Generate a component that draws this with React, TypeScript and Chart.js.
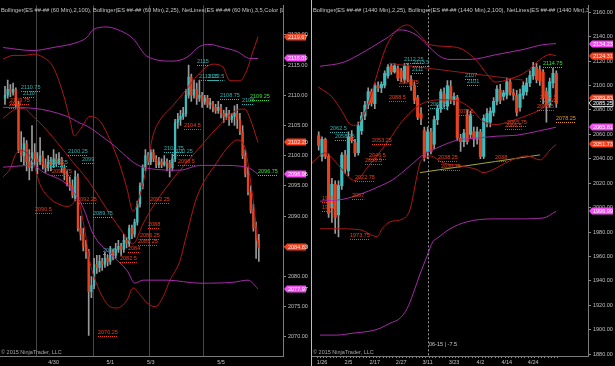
import React, { useEffect, useRef } from "react";
import { Chart, registerables } from "chart.js";

Chart.register(...registerables);

const FONT = '"Liberation Sans", "DejaVu Sans", Arial, sans-serif';

// ================= LEFT PANEL (60 Min) =================
// [open, high, low, close]
const leftCandles: number[][] = [
  [2109.5, 2111.5, 2108.5, 2110], [2110, 2112.5, 2109.5, 2111], [2111, 2111.75, 2109.75, 2110.5], [2110.5, 2112, 2110, 2111],
  [2111, 2111.25, 2108, 2108.5], [2108.5, 2109, 2100.5, 2101], [2101, 2104, 2099, 2100], [2100, 2103, 2098.5, 2102],
  [2102, 2102.5, 2097.5, 2099], [2099, 2101, 2096, 2098], [2098, 2105, 2097.5, 2100.5], [2100.5, 2102, 2098.5, 2099.5],
  [2099.5, 2100.5, 2097, 2099], [2099, 2103, 2098.5, 2100], [2100, 2100.75, 2097.75, 2098.5], [2098.5, 2099.5, 2097.25, 2098],
  [2098, 2100, 2097.5, 2099], [2099, 2099.75, 2097.5, 2098.5], [2098.5, 2101, 2098, 2099.5], [2099.5, 2100.25, 2098.25, 2098.75],
  [2098.75, 2100.5, 2098.5, 2099.5], [2099.5, 2099.75, 2097.25, 2098], [2098, 2098.5, 2096, 2097], [2097, 2097.5, 2095, 2095.5],
  [2095.5, 2096.5, 2094.25, 2095], [2095, 2096, 2093, 2093.5], [2093, 2097.5, 2092.5, 2096.5], [2096.5, 2097, 2087.5, 2088],
  [2088, 2090, 2086, 2087], [2087, 2088, 2084.25, 2085], [2085, 2086, 2083, 2084], [2084, 2084.5, 2070.25, 2077.5],
  [2077.5, 2080, 2076.5, 2078.5], [2078.5, 2083, 2078, 2082], [2082, 2083.5, 2080.5, 2081.5], [2081.5, 2083.5, 2080.75, 2082.5],
  [2082.5, 2083, 2081, 2082], [2082, 2084, 2081.5, 2083], [2083, 2083.5, 2081.75, 2082.5], [2082.5, 2085, 2082, 2084],
  [2084, 2084.5, 2082.75, 2083.5], [2083.5, 2085.5, 2083, 2084.5], [2084.5, 2086, 2084, 2085], [2085, 2085.5, 2083.5, 2084.5],
  [2084.5, 2087, 2084, 2086], [2086, 2086.5, 2084.75, 2085.5], [2085.5, 2088.5, 2085, 2088], [2088, 2088.5, 2086.25, 2087],
  [2087, 2089.5, 2086.5, 2089], [2089, 2092.5, 2088.5, 2092], [2092, 2095.5, 2091.5, 2095], [2095, 2098.5, 2094.5, 2098],
  [2098, 2101, 2097.5, 2100], [2100, 2100.5, 2098.5, 2099], [2099, 2101, 2098.5, 2100.5], [2100.5, 2101, 2099, 2099.5],
  [2099.5, 2100, 2098, 2098.5], [2098.5, 2099.75, 2098, 2099], [2099, 2099.5, 2098, 2098.5], [2098.5, 2100, 2098.25, 2099],
  [2099, 2099.5, 2097.5, 2098.75], [2098.75, 2099.25, 2096.5, 2098], [2098, 2100.25, 2097.5, 2099.5], [2099.5, 2106, 2099, 2105.5],
  [2105.5, 2107, 2104.5, 2106], [2106, 2107.5, 2105, 2106.5], [2106.5, 2108, 2106, 2107], [2107, 2111, 2106.5, 2110],
  [2110, 2115, 2109.5, 2113], [2113, 2113.5, 2109, 2110], [2110, 2112.5, 2109.5, 2111], [2111, 2112, 2108.5, 2109.5],
  [2109.5, 2112.5, 2109, 2110], [2110, 2110.5, 2108, 2109], [2109, 2110, 2108.5, 2109.5], [2109.5, 2110, 2108, 2108.5],
  [2108.5, 2109.5, 2107.75, 2108.75], [2108.75, 2109, 2107.25, 2108], [2108, 2108.5, 2107, 2107.5], [2107.5, 2109, 2107, 2108],
  [2108, 2108.5, 2106.25, 2107], [2107, 2107.5, 2105.5, 2106.5], [2106.5, 2108, 2106, 2107], [2107, 2107.5, 2105, 2106],
  [2106, 2107, 2105.5, 2106.5], [2106.5, 2108.25, 2105, 2107], [2107, 2108.5, 2104.5, 2106], [2106, 2107, 2103.5, 2104],
  [2104, 2105, 2099.5, 2100], [2100, 2101, 2096.5, 2097], [2097, 2098, 2093.5, 2094], [2094, 2095, 2090.5, 2091],
  [2091, 2092, 2087.5, 2088], [2088, 2089, 2083, 2086], [2086, 2087, 2082.5, 2084.75],
];
// Bollinger (2,100) – purple
const leftUpper100 = [[-0.7, 2117.9], [10.4, 2117.4], [17.8, 2117.9], [26.7, 2118.75], [30.4, 2119.6], [32.6, 2120.85], [37.8, 2121.3], [42.6, 2120.7], [47.4, 2119.4], [52.6, 2116.45], [62.2, 2115.65], [67.4, 2116.3], [72.2, 2118.1], [75.9, 2118.4], [80.7, 2117.9], [85.9, 2117.25], [90.7, 2116.1], [93.7, 2116.09]];
const leftMid100 = [[-0.7, 2108], [10.4, 2107.85], [23, 2106.5], [27.8, 2105.4], [30.4, 2104.9], [38.9, 2102.2], [51.1, 2098.1], [64.8, 2097.6], [72.2, 2098.4], [79.6, 2098.4], [89.6, 2098.1], [93.7, 2096.96]];
const leftLower100 = [[-0.7, 2098.1], [10.4, 2098.4], [14.1, 2097.3], [23, 2095.2], [28.9, 2091.45], [32.6, 2087.05], [38.9, 2083.8], [45.2, 2081], [48.1, 2078.9], [51.1, 2079.4], [60, 2079.4], [72.2, 2078.9], [84.4, 2079.05], [90, 2079.4], [93.7, 2077.97]];
// Bollinger (2,25) – dark red
const leftUpper25 = [[-0.7, 2116], [3, 2116.6], [7.4, 2116.6], [10.4, 2116.8], [14.1, 2116.3], [17.8, 2114.7], [21.5, 2110.3], [24.1, 2105.9], [25.6, 2103.3], [27.8, 2104.3], [31.5, 2106.5], [35.2, 2105.7], [38.9, 2102.6], [42.6, 2098.4], [45.2, 2094.5], [47.4, 2090.8], [50, 2093.5], [52.6, 2098.4], [54.8, 2103.3], [57.4, 2105.9], [62.2, 2108.3], [67.4, 2111.1], [71.1, 2113.2], [77, 2115.15], [80.7, 2114.7], [83.3, 2112.4], [87, 2112.4], [89.6, 2114.2], [91.5, 2116.8], [93.7, 2119.67]];
const leftMid25 = [[-0.7, 2106.2], [3, 2107.5], [6.7, 2107.85], [10.4, 2106.5], [14.1, 2104.9], [19.3, 2102.2], [25.2, 2098.9], [30.4, 2096.1], [35.2, 2092.9], [40, 2089.6], [45.2, 2086.4], [47.4, 2085.4], [51.1, 2088.7], [54.8, 2091.6], [58.5, 2094], [63.7, 2097], [71.1, 2100.85], [78.5, 2104.6], [84.1, 2107], [87, 2107.7], [88.9, 2107.7], [90.7, 2106.2], [93.7, 2102.2]];
const leftLower25 = [[-0.7, 2096.5], [1.85, 2097.8], [3.7, 2100], [5.6, 2100.85], [8.1, 2100.5], [10.4, 2098.9], [13, 2095.2], [16.7, 2092.9], [20.4, 2091.9], [23, 2091.6], [24.8, 2091.9], [26.7, 2092.9], [29.6, 2087.5], [31.5, 2082.3], [34.1, 2078.6], [36.3, 2076.5], [38.9, 2075], [41.5, 2074.8], [45.2, 2076.1], [47.4, 2078.1], [50, 2077], [52.6, 2075.65], [55.6, 2075], [58.5, 2076.6], [61.1, 2079.4], [64.8, 2082.6], [66.7, 2085.9], [71.1, 2093.2], [78.5, 2098.9], [83.3, 2101.8], [85.9, 2102.6], [88.9, 2101.3], [90.7, 2096.5], [92.6, 2090], [93.7, 2084.9]];
const leftYTicks = [2070, 2075, 2080, 2085, 2090, 2095, 2100, 2105, 2110, 2115, 2120];
const leftDateTicks: [number, string][] = [[18, "4/30"], [39, "5/1"], [54, "5/3"], [80, "5/5"]];
const leftSessionBreaks = [11.5, 32.5, 53.5, 73.4];
// [text, bar, price, colour]
const leftNotes: [string, number, number, string][] = [
  ["2110.75", 5.9, 2111.4, "c"], ["2110", 6.7, 2110.45, "c"], ["2109.75", 1.85, 2109.3, "r"], ["2108", 1.5, 2108.6, "r"],
  ["2100.25", 23.3, 2100.85, "c"], ["2099", 28.5, 2099.4, "c"], ["2098.25", 15.9, 2098.9, "c"], ["2096.75", 17.4, 2097.4, "r"],
  ["2092.25", 26.7, 2092.9, "r"], ["2090.5", 11.1, 2091.1, "r"], ["2089.75", 32.6, 2090.45, "c"], ["2087", 36.3, 2084.4, "c"],
  ["2084", 45.6, 2084.75, "r"], ["2082.5", 42.6, 2083.1, "r"], ["2086.25", 50, 2086.9, "r"], ["2085.25", 49.3, 2085.9, "r"],
  ["2088", 53, 2088.7, "r"], ["2092.25", 53.7, 2092.9, "r"], ["2070.25", 34.4, 2070.9, "r"], ["2104.5", 66.3, 2105.1, "r"],
  ["2115", 71.1, 2115.65, "c"], ["2113.25", 71.9, 2113.2, "c"], ["2112.5", 75.2, 2113.2, "c"], ["2108.75", 79.6, 2110.1, "c"],
  ["2108", 87.8, 2109.15, "c"], ["2109.25", 90.7, 2109.8, "g"], ["2101.75", 58.9, 2101.3, "c"], ["2100.25", 62.2, 2100.85, "c"],
  ["2098.5", 64.1, 2099.2, "r"], ["2096.75", 93.7, 2097.4, "g"],
];
// [text, price, colour]
const leftTags: [string, number, string][] = [
  ["2119.67", 2119.67, "r"], ["2116.09", 2116.09, "m"], ["2102.20", 2102.2, "r"],
  ["2096.96", 2096.96, "m"], ["2084.83", 2084.83, "r"], ["2077.97", 2077.97, "m"],
];

// ================= RIGHT PANEL (1440 Min) =================
const rightCandles: number[][] = [
  [2059, 2062, 2047, 2051], [2042, 2058, 2038, 2056], [2056, 2057, 2040, 2042], [2042, 2044, 1992, 1995],
  [2000, 2024, 1988, 2019], [2019, 2022, 1979, 1992], [1994, 2022, 1976, 2018], [2018, 2045, 2015, 2043],
  [2043, 2047, 2028, 2032], [2030, 2062, 2026, 2058], [2058, 2063, 2053, 2055], [2053, 2056, 2042, 2045],
  [2045, 2070, 2043, 2067], [2063, 2078, 2060, 2075], [2075, 2087, 2072, 2084], [2084, 2098, 2081, 2095],
  [2095, 2097, 2083, 2086], [2085, 2102, 2081, 2100], [2100, 2103, 2095, 2098], [2098, 2103, 2094, 2101],
  [2100, 2112, 2098, 2110], [2108, 2117, 2106, 2115], [2116, 2118, 2109, 2111], [2111, 2118, 2110, 2116],
  [2114, 2116, 2104, 2106], [2112, 2114, 2103, 2106], [2105, 2118, 2102, 2116], [2116, 2118, 2103, 2105],
  [2105, 2108, 2096, 2100], [2100, 2103, 2085, 2088], [2090, 2092, 2072, 2074], [2077, 2082, 2068, 2073],
  [2063, 2066, 2038, 2041], [2046, 2066, 2040, 2062], [2062, 2065, 2044, 2046], [2052, 2075, 2048, 2072],
  [2072, 2084, 2068, 2081], [2081, 2097, 2078, 2095], [2093, 2098, 2082, 2086], [2083, 2104, 2080, 2100],
  [2099, 2104, 2085, 2088], [2088, 2094, 2084, 2091], [2090, 2092, 2055, 2057], [2057, 2060, 2046, 2054],
  [2054, 2064, 2050, 2061], [2076, 2080, 2052, 2054], [2060, 2079, 2057, 2076], [2062, 2066, 2050, 2056],
  [2056, 2066, 2052, 2062], [2062, 2064, 2040, 2042], [2042, 2076, 2040, 2073], [2070, 2081, 2066, 2077],
  [2070, 2082, 2066, 2079], [2078, 2090, 2075, 2087], [2087, 2100, 2084, 2097], [2096, 2101, 2085, 2088],
  [2091, 2096, 2088, 2094], [2092, 2106, 2089, 2103], [2103, 2105, 2092, 2094], [2094, 2097, 2088, 2092],
  [2092, 2096, 2075, 2078], [2082, 2097, 2079, 2093], [2092, 2103, 2089, 2100], [2095, 2106, 2092, 2102],
  [2102, 2112, 2099, 2108], [2108, 2119, 2105, 2115], [2115, 2118, 2102, 2105], [2113, 2116, 2100, 2104],
  [2111, 2113, 2085, 2090], [2095, 2098, 2070, 2084], [2084, 2106, 2082, 2103], [2102, 2114, 2098, 2110],
  [2110, 2112, 2082, 2085.25],
];
const rightUpper100 = [[0.4, 2115.7], [7.4, 2118.9], [13.4, 2127], [20.7, 2139], [24.6, 2145.5], [27.7, 2143.9], [30.7, 2139], [33.7, 2131], [36.8, 2123.7], [39.8, 2121.3], [45.8, 2121.3], [54, 2125.35], [61.9, 2129.4], [68, 2133.4], [71.9, 2134.23]];
const rightMid100 = [[0.4, 2005.3], [7.4, 2006.9], [12.5, 2010.9], [17.7, 2016.6], [22.5, 2023], [27.7, 2034.3], [31.6, 2043.2], [35.8, 2048.8], [41.9, 2055.2], [48, 2056.9], [54, 2058.5], [60.1, 2059.3], [66.2, 2062.5], [71.9, 2065.81]];
const rightLower100 = [[0.4, 1895.7], [5.5, 1895.7], [10.4, 1897.3], [15.5, 1898.9], [18.6, 1901.3], [21.6, 1905.4], [24.6, 1909.4], [26.8, 1917.5], [28.6, 1929.5], [30.7, 1945.7], [32.8, 1960.2], [34.6, 1972.25], [35.8, 1974.7], [39.8, 1982.7], [44.9, 1988.4], [52.8, 1990.8], [60.1, 1990.8], [68, 1991.5], [71.9, 1996.99]];
const rightUpper25 = [[-0.2, 2098.8], [4, 2090.7], [7.1, 2078.6], [9.2, 2069], [11, 2067.3], [13.1, 2073], [15.5, 2089.1], [17.7, 2109.2], [20.1, 2129.4], [22.5, 2141.5], [26.8, 2149.5], [29.8, 2143.9], [33.7, 2133.4], [39.8, 2131.8], [43.7, 2129.4], [48, 2119.7], [51, 2109.2], [53.4, 2102.8], [57.9, 2105.2], [63.1, 2111.65], [67.1, 2121.3], [70.1, 2125.35], [71.9, 2124.31]];
const rightMid25 = [[-2, 2036.7], [1.9, 2044.8], [6.1, 2034.3], [9.2, 2024.6], [11, 2022.2], [15.2, 2034.3], [18.3, 2044.8], [21.3, 2055.2], [24.3, 2067.3], [28.3, 2079.4], [31.3, 2085.1], [32.8, 2086.7], [36.8, 2088.3], [41.9, 2087.5], [45.8, 2081.8], [49.8, 2070.6], [54, 2068.1], [57.9, 2070.6], [63.1, 2075.4], [67.1, 2080.2], [71.9, 2089.83]];
const rightLower25 = [[0.4, 1982.7], [5.5, 1982.7], [12.5, 1981.9], [17.7, 1976.3], [19.2, 1982.7], [21.6, 1988.4], [25.5, 1990.8], [27.7, 1998.85], [29.8, 2026.2], [30.7, 2036.7], [32.2, 2040.7], [33.7, 2042.35], [37.7, 2036.7], [42.8, 2034.3], [48, 2031.1], [49.8, 2028.65], [52.8, 2031.1], [57.9, 2038.3], [63.1, 2042.35], [67.1, 2039.1], [70.1, 2047.2], [71.9, 2051.73]];
const rightTrendSupport = [[30.7, 2028.65], [67.1, 2043.2]];
const rightTrendResist = [[21.3, 2118.1], [61.9, 2104.4]];
const rightYTicks = [1880, 1900, 1920, 1940, 1960, 1980, 2000, 2020, 2040, 2060, 2080, 2100, 2120, 2140, 2160];
const rightDateTicks: [number, string][] = [[1, "1/26"], [9, "2/5"], [17, "2/17"], [25, "2/27"], [33, "3/11"], [41, "3/23"], [49, "4/2"], [57, "4/14"], [65, "4/24"]];
const rightDashedLines = [33];
const rightNotes: [string, number, number, string][] = [
  ["2112.25", 25.8, 2121.3, "c"], ["2113.5", 28.6, 2118.9, "c"], ["2111", 28.3, 2113.3, "c"], ["2096.75", 24.3, 2102.8, "r"],
  ["2088.5", 21.3, 2090.7, "r"], ["2107", 44.3, 2108.4, "c"], ["2101", 44.9, 2103.6, "c"], ["2078.5", 41.9, 2079.4, "r"],
  ["2062.5", 3.4, 2064.9, "c"], ["2058.75", 4.9, 2058.5, "c"], ["2062.5", 33.7, 2085.1, "c"], ["2053.25", 16.2, 2055.2, "r"],
  ["2046.5", 15.2, 2043.2, "r"], ["2038.5", 14, 2039.1, "r"], ["2022.75", 11, 2025.4, "r"], ["2007", 10.1, 2010.1, "r"],
  ["1996", 1, 2007.7, "r"], ["1993", 1, 2000.5, "r"], ["1973.75", 9.5, 1977.9, "r"], ["2065.75", 57.1, 2069.8, "r"],
  ["2066.5", 56.5, 2067.3, "r"], ["2092.5", 67.1, 2090.7, "r"], ["2086.5", 66.2, 2083.4, "r"], ["2114.75", 68, 2118.1, "g"],
  ["2078.25", 71.9, 2073, "o"], ["2038.25", 36.1, 2041.5, "r"], ["2030.75", 37.1, 2034.3, "r"], ["2038", 53.4, 2041.5, "r"],
  ["06-15 | -7.5", 33.3, 1888.4, "w"],
];
const rightTags: [string, number, string][] = [
  ["2134.23", 2134.23, "m"], ["2124.31", 2124.31, "r"], ["2089.83", 2089.83, "r"], ["2085.25", 2085.25, "k"],
  ["2065.81", 2065.81, "m"], ["2051.73", 2051.73, "r"], ["1996.99", 1996.99, "m"],
];

// ================= styles =================
const UP = "#3cbcbc";
const DOWN = "#e8421e";
const WICK = "#9a9a9a";
const PURPLE = "#a62aa8";
const DARKRED = "#b01616";
const NOTE_COLORS: Record<string, string> = { c: "#33b0b0", r: "#e8401c", g: "#36e036", o: "#e89a1c", w: "#c8c8c8" };
const TAG_BG: Record<string, string> = { r: "#f3401e", m: "#f04cf0", k: "#111111" };
const TAG_FG: Record<string, string> = { r: "#ffe6e6", m: "#ffffff", k: "#ffffff" };

type Panel = {
  width: number;
  yAxisW: number;
  candles: number[][];
  bodyW: number;
  lines: { pts: number[][]; color: string; straight?: boolean }[];
  xMin: number; xMax: number; yMin: number; yMax: number;
  yTicks: number[];
  dateTicks: [number, string][];
  tickEveryBar: boolean;
  sessionBreaks: number[];
  dashedLines: number[];
  notes: [string, number, number, string][];
  tags: [string, number, string][];
  title: string;
};

const LEFT: Panel = {
  width: 308, yAxisW: 25, candles: leftCandles, bodyW: 1.6,
  lines: [
    { pts: leftUpper100, color: PURPLE }, { pts: leftMid100, color: PURPLE }, { pts: leftLower100, color: PURPLE },
    { pts: leftUpper25, color: DARKRED }, { pts: leftMid25, color: DARKRED }, { pts: leftLower25, color: DARKRED },
  ],
  xMin: -1.85, xMax: 102.96, yMin: 2066.85, yMax: 2124.89,
  yTicks: leftYTicks, dateTicks: leftDateTicks, tickEveryBar: false,
  sessionBreaks: leftSessionBreaks, dashedLines: [],
  notes: leftNotes, tags: leftTags,
  title: "Bollinger(ES ##-## (60 Min),2,100), Bollinger(ES ##-## (60 Min),2,25), NetLines(ES ##-## (60 Min),3,5,Color [Lime],Color [Red])",
};

const RIGHT: Panel = {
  width: 303, yAxisW: 27, candles: rightCandles, bodyW: 2.5,
  lines: [
    { pts: rightUpper100, color: PURPLE }, { pts: rightMid100, color: PURPLE }, { pts: rightLower100, color: PURPLE },
    { pts: rightUpper25, color: DARKRED }, { pts: rightMid25, color: DARKRED }, { pts: rightLower25, color: DARKRED },
    { pts: rightTrendSupport, color: "#a3a832", straight: true }, { pts: rightTrendResist, color: "#8e1c1c", straight: true },
  ],
  xMin: -2.03, xMax: 81.6, yMin: 1878.6, yMax: 2165.6,
  yTicks: rightYTicks, dateTicks: rightDateTicks, tickEveryBar: true,
  sessionBreaks: [], dashedLines: rightDashedLines,
  notes: rightNotes, tags: rightTags,
  title: "Bollinger(ES ##-## (1440 Min),2,25), Bollinger(ES ##-## (1440 Min),2,100), NetLines(ES ##-## (1440 Min),3,5,Color [Lime],Color [Red])",
};

function overlay(p: Panel) {
  return {
    id: "overlay",
    beforeDatasetsDraw(chart: any) {
      const { ctx, chartArea: a, scales } = chart;
      const x = scales.x;
      ctx.save();
      ctx.lineWidth = 1;
      ctx.strokeStyle = "#474747";
      for (const v of p.sessionBreaks) {
        const px = Math.round(x.getPixelForValue(v)) + 0.5;
        ctx.beginPath(); ctx.moveTo(px, a.top); ctx.lineTo(px, a.bottom); ctx.stroke();
      }
      ctx.strokeStyle = "#9a9a9a";
      ctx.setLineDash([2, 2]);
      for (const v of p.dashedLines) {
        const px = Math.round(x.getPixelForValue(v)) + 0.5;
        ctx.beginPath(); ctx.moveTo(px, a.top); ctx.lineTo(px, a.bottom); ctx.stroke();
      }
      ctx.restore();
    },
    afterDatasetsDraw(chart: any) {
      const { ctx, chartArea: a, scales } = chart;
      const x = scales.x, y = scales.y;
      ctx.save();
      ctx.beginPath();
      ctx.rect(a.left, a.top, a.right - a.left, a.bottom - a.top);
      ctx.clip();
      ctx.font = `5.5px ${FONT}`;
      ctx.textBaseline = "middle";
      ctx.textAlign = "left";
      for (const [text, i, v, c] of p.notes) {
        const px = Math.round(x.getPixelForValue(i));
        const py = Math.round(y.getPixelForValue(v));
        const col = NOTE_COLORS[c];
        ctx.fillStyle = col;
        ctx.fillText(text, px, py);
        if (c !== "w") {
          const w = ctx.measureText(text).width;
          ctx.strokeStyle = col;
          ctx.lineWidth = 1;
          ctx.setLineDash([1, 1]);
          ctx.beginPath();
          ctx.moveTo(px, py + 4.5);
          ctx.lineTo(px + w, py + 4.5);
          ctx.stroke();
          ctx.setLineDash([]);
        }
      }
      ctx.font = `5.75px ${FONT}`;
      ctx.fillStyle = "#c4c4c4";
      ctx.fillText(p.title, a.left + 1, a.top + 5);
      ctx.font = `5.5px ${FONT}`;
      ctx.fillStyle = "#a8a8a8";
      ctx.fillText("\u00a9 2015 NinjaTrader, LLC", a.left + 1, a.bottom - 4);
      ctx.restore();
    },
    afterDraw(chart: any) {
      const { ctx, chartArea: a, scales, width } = chart;
      const y = scales.y;
      ctx.save();
      ctx.font = `5.5px ${FONT}`;
      ctx.textBaseline = "middle";
      ctx.textAlign = "left";
      for (const [text, v, c] of p.tags) {
        const py = Math.round(y.getPixelForValue(v));
        const x0 = a.right + 1, x1 = width - 2, h = 3.5;
        ctx.beginPath();
        ctx.moveTo(x0, py);
        ctx.lineTo(x0 + 3, py - h);
        ctx.lineTo(x1, py - h);
        ctx.lineTo(x1, py + h);
        ctx.lineTo(x0 + 3, py + h);
        ctx.closePath();
        ctx.fillStyle = TAG_BG[c];
        ctx.fill();
        if (c === "k") { ctx.strokeStyle = "#cfcfcf"; ctx.lineWidth = 1; ctx.stroke(); }
        ctx.fillStyle = TAG_FG[c];
        ctx.fillText(text, x0 + 4, py + 0.5);
      }
      ctx.restore();
    },
  };
}

function buildConfig(p: Panel): any {
  const wicks = p.candles.map((c, i) => ({ x: i, y: [c[2], c[1]] }));
  const bodies = p.candles.map((c, i) => ({ x: i, y: [c[0], c[3]] }));
  const bodyColors = p.candles.map((c) => (c[3] >= c[0] ? UP : DOWN));
  const dateMap = new Map<number, string>(p.dateTicks);
  const xTickValues = p.tickEveryBar ? p.candles.map((_, i) => i) : p.dateTicks.map((t) => t[0]);
  const lineSets = p.lines.map((l) => ({
    type: "line",
    data: l.pts.map(([x, y]) => ({ x, y })),
    borderColor: l.color,
    borderWidth: 1,
    pointRadius: 0,
    fill: false,
    cubicInterpolationMode: l.straight ? "default" : "monotone",
    tension: 0,
    order: 1,
  }));
  return {
    type: "bar",
    data: {
      datasets: [
        ...lineSets,
        { type: "bar", data: bodies, backgroundColor: bodyColors, barThickness: p.bodyW, grouped: false, order: 2 },
        { type: "bar", data: wicks, backgroundColor: WICK, barThickness: 1, grouped: false, order: 3 },
      ],
    },
    options: {
      animation: false,
      responsive: false,
      devicePixelRatio: 1,
      events: [],
      layout: { padding: 0, autoPadding: false },
      plugins: { legend: { display: false }, tooltip: { enabled: false }, title: { display: false } },
      scales: {
        x: {
          type: "linear",
          position: "bottom",
          min: p.xMin,
          max: p.xMax,
          offset: false,
          afterBuildTicks: (s: any) => { s.ticks = xTickValues.map((v) => ({ value: v })); },
          afterFit: (s: any) => { s.height = 10; },
          ticks: {
            autoSkip: false, maxRotation: 0, minRotation: 0, padding: 1, color: "#c0c0c0",
            font: { family: FONT, size: 5.5 },
            callback: (v: number) => dateMap.get(v) ?? "",
          },
          grid: { display: p.tickEveryBar, drawOnChartArea: false, tickLength: 2, color: "#8a8a8a" },
          border: { display: true, color: "#7a7a7a", width: 1 },
        },
        y: {
          type: "linear",
          position: "right",
          min: p.yMin,
          max: p.yMax,
          afterBuildTicks: (s: any) => { s.ticks = p.yTicks.map((v) => ({ value: v })); },
          afterFit: (s: any) => { s.width = p.yAxisW; },
          ticks: {
            autoSkip: false, padding: 2, color: "#c0c0c0",
            font: { family: FONT, size: 5.5 },
            callback: (v: number) => Number(v).toFixed(2),
          },
          grid: { drawOnChartArea: false, tickLength: 3, color: "#8a8a8a" },
          border: { display: true, color: "#7a7a7a", width: 1 },
        },
      },
    },
    plugins: [overlay(p)],
  };
}

function PanelChart({ panel, left }: { panel: Panel; left: number }) {
  const ref = useRef<HTMLCanvasElement>(null);
  useEffect(() => {
    const chart = new Chart(ref.current as HTMLCanvasElement, buildConfig(panel));
    return () => chart.destroy();
  }, [panel]);
  return (
    <div style={{ position: "absolute", left, top: 0, width: panel.width, height: 366 }}>
      <canvas ref={ref} width={panel.width} height={366} style={{ display: "block", background: "#000" }} />
    </div>
  );
}

export default function App() {
  return (
    <div style={{ position: "fixed", left: 0, top: 0, width: 615, height: 366, background: "#000", overflow: "hidden" }}>
      <PanelChart panel={LEFT} left={0} />
      <div style={{ position: "absolute", left: 311, top: 0, width: 1, height: 366, background: "#bcbcbc" }} />
      <PanelChart panel={RIGHT} left={312} />
    </div>
  );
}
